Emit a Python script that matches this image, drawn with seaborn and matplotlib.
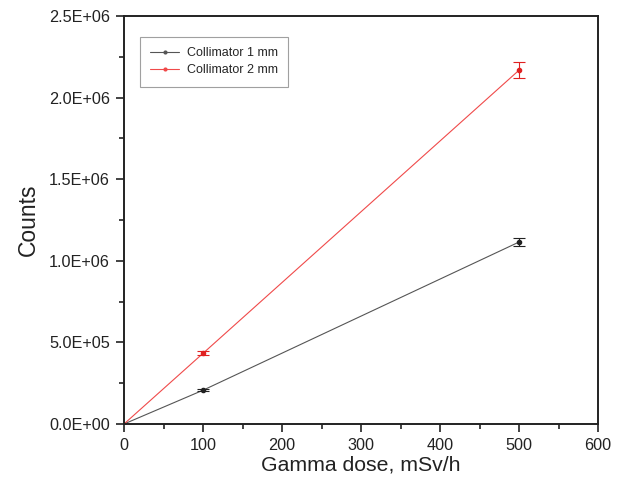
import matplotlib
matplotlib.use("Agg")
import matplotlib.pyplot as plt
import seaborn as sns
import pandas as pd
import numpy as np
from matplotlib.ticker import MultipleLocator, FuncFormatter

dose = [0, 100, 500]
coll1 = [0, 2.07e5, 1.115e6]
coll1_err = [0, 0.006e6, 0.025e6]
coll2 = [0, 4.33e5, 2.168e6]
coll2_err = [0, 0.012e6, 0.048e6]
series_names = ["Collimator 1 mm", "Collimator 2 mm"]
colors = ["#555555", "#f04a4a"]

df = pd.DataFrame({
    "dose": dose * 2,
    "counts": coll1 + coll2,
    "series": [series_names[0]] * 3 + [series_names[1]] * 3,
})

sns.set_style("ticks")
plt.rcParams["font.family"] = ["Liberation Sans", "DejaVu Sans"]

fig = plt.figure(figsize=(6.21, 4.9), dpi=100)
ax = fig.add_axes([0.1997, 0.1347, 0.7633, 0.8326])

sns.lineplot(data=df, x="dose", y="counts", hue="series", palette=colors,
             marker="o", markersize=3, markeredgewidth=0, linewidth=0.8, ax=ax)

for vals, errs, c in [(coll1, coll1_err, "#222222"), (coll2, coll2_err, "#e02020")]:
    ax.errorbar(dose[1:], vals[1:], yerr=errs[1:], fmt="none", ecolor=c,
                elinewidth=0.8, capsize=4, capthick=0.8)
    ax.plot(dose[1:], vals[1:], "o", color=c, markersize=3)

ax.set_xlim(0, 600)
ax.set_ylim(0, 2.5e6)
ax.xaxis.set_major_locator(MultipleLocator(100))
ax.xaxis.set_minor_locator(MultipleLocator(50))
ax.yaxis.set_major_locator(MultipleLocator(5e5))
ax.yaxis.set_minor_locator(MultipleLocator(2.5e5))

def sci(v, pos):
    if v == 0:
        return "0.0E+00"
    exp = int(np.floor(np.log10(abs(v))))
    mant = v / 10 ** exp
    return f"{mant:.1f}E+{exp:02d}"

ax.yaxis.set_major_formatter(FuncFormatter(sci))
ax.tick_params(axis="both", which="major", direction="out", length=6, width=1.2,
               labelsize=11.7, colors="#222222", pad=4)
ax.tick_params(axis="both", which="minor", direction="out", length=3.5, width=1.2,
               colors="#222222")
for s in ax.spines.values():
    s.set_linewidth(1.4)
    s.set_color("#222222")
    s.set_visible(True)

ax.set_xlabel("Gamma dose, mSv/h", fontsize=15.3, labelpad=2, color="#222222")
ax.set_ylabel("Counts", fontsize=16.5, labelpad=7, color="#222222")

leg = ax.legend(loc="upper left", bbox_to_anchor=(0.02, 0.965), fontsize=9,
                frameon=True, fancybox=False, edgecolor="#888888",
                handlelength=2.3, borderpad=0.85, labelspacing=0.4,
                handletextpad=0.6)
leg.get_frame().set_linewidth(0.8)
for h in leg.get_lines():
    h.set_linewidth(0.8)

fig.savefig("out.png", dpi=100)
